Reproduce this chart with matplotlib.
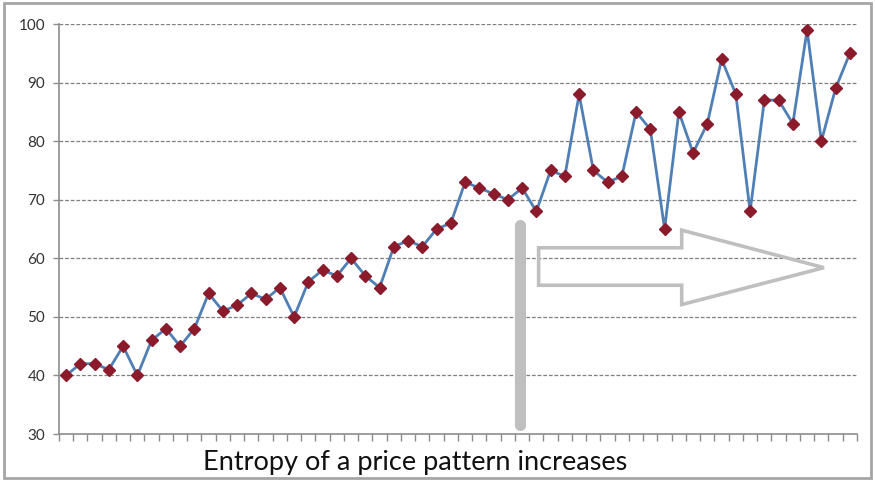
import matplotlib.pyplot as plt
import numpy as np
from matplotlib.patches import Polygon, Rectangle
from matplotlib.ticker import FixedLocator

# price per period
prices = [40, 42, 42, 41, 45, 40, 46, 48, 45, 48,
          54, 51, 52, 54, 53, 55, 50, 56, 58, 57,
          60, 57, 55, 62, 63, 62, 65, 66, 73, 72,
          71, 70, 72, 68, 75, 74, 88, 75, 73, 74,
          85, 82, 65, 85, 78, 83, 94, 88, 68, 87,
          87, 83, 99, 80, 89, 95]
y_ticks = [30, 40, 50, 60, 70, 80, 90, 100]
caption = "Entropy of a price pattern increases"

LINE = "#4f7fb5"
MARK = "#8b1a2b"
SHAPE = "#bfbfbf"
AXIS = "#8c8c8c"

plt.rcParams["font.family"] = ["Lato", "DejaVu Sans"]

fig = plt.figure(figsize=(8.75, 4.8), dpi=100)
ax = fig.add_axes([0.0674, 0.0958, 0.912, 0.8542])

x = np.arange(len(prices))
ax.plot(x, prices, color=LINE, lw=2, zorder=3)
ax.plot(x, prices, ls="none", marker="D", ms=6.5, color=MARK, zorder=4)

ax.set_xlim(-0.5, len(prices) - 0.5)
ax.set_ylim(30, 100)
ax.set_yticks(y_ticks)
ax.tick_params(axis="y", length=4, width=1, color=AXIS, pad=6,
               labelsize=11, labelcolor="#333333")
ax.set_xticks([])
ax.xaxis.set_minor_locator(FixedLocator(np.arange(len(prices) + 1) - 0.5))
ax.tick_params(axis="x", which="minor", length=5, width=1, color=AXIS)
for v in y_ticks[1:]:
    ax.axhline(v, color="#7f7f7f", lw=0.9, ls=(0, (3, 1.5)), zorder=1)

for s in ("top", "right"):
    ax.spines[s].set_visible(False)
for s in ("left", "bottom"):
    ax.spines[s].set_color(AXIS)
    ax.spines[s].set_linewidth(1.2)

# regime change marker and block arrow
ax.plot([31.85, 31.85], [31.6, 65.6], color=SHAPE, lw=8,
        solid_capstyle="round", zorder=2)
arrow = [(33.16, 61.8), (43.2, 61.8), (43.2, 64.8), (53.18, 58.4),
         (43.2, 52.1), (43.2, 55.4), (33.16, 55.4)]
ax.add_patch(Polygon(arrow, closed=True, fill=False, ec=SHAPE, lw=2.6,
                     joinstyle="miter", zorder=2))

fig.text(0.474, 0.037, caption, ha="center", va="center", fontsize=19.5,
         color="#111111")

fig.patches.append(Rectangle((0.005, 0.005), 0.99, 0.988, transform=fig.transFigure,
                             fill=False, ec="#a6a6a6", lw=2))

fig.savefig("out.png", dpi=100)
